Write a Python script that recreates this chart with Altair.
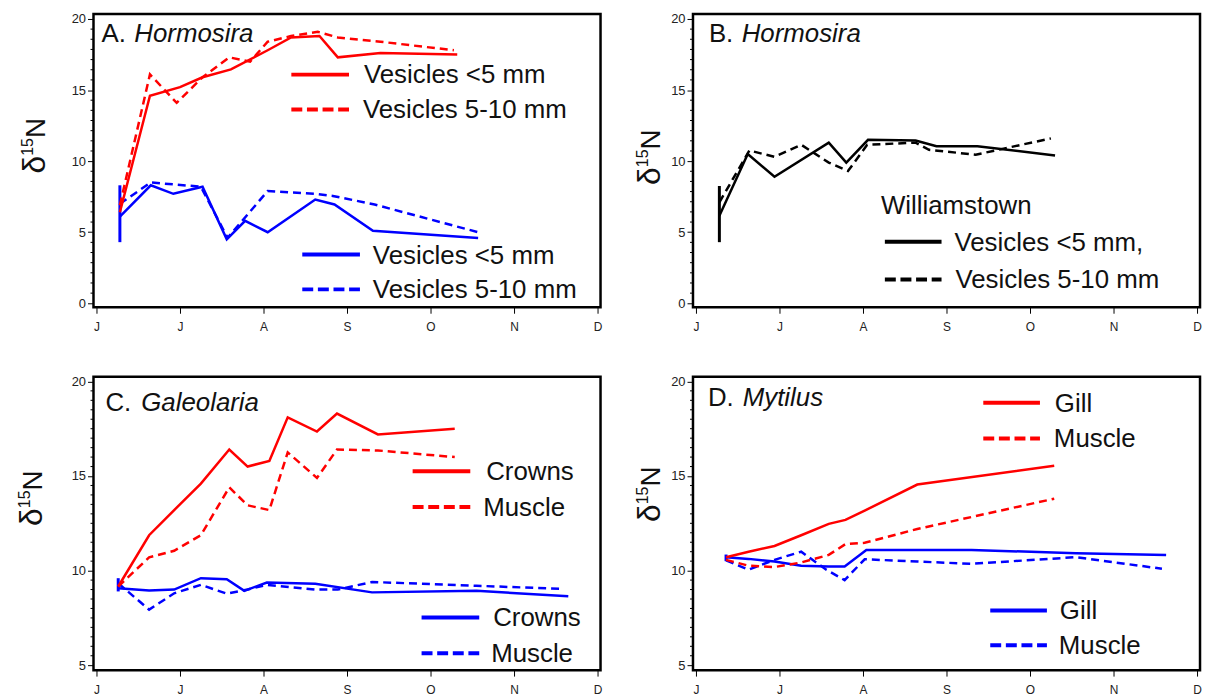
import altair as alt
import pandas as pd

# ---------------- data (x in months from 1 June; y = d15N) ----------------
MONTH_LABELS = ["J", "J", "A", "S", "O", "N", "D"]
MONTH_TICKS = [0, 1, 2, 3, 4, 5, 6]

# Panel A  Hormosira
a_red_solid_x = [0.28, 0.64, 1.00, 1.27, 1.61, 2.05, 2.33, 2.67, 2.89, 3.40, 4.32]
a_red_solid_y = [6.4, 14.6, 15.2, 15.9, 16.45, 17.8, 18.7, 18.8, 17.3, 17.6, 17.5]
a_red_dash_x = [0.28, 0.64, 0.96, 1.27, 1.59, 1.84, 2.05, 2.33, 2.65, 2.89, 3.40, 4.28]
a_red_dash_y = [6.9, 16.1, 14.1, 15.9, 17.3, 17.0, 18.4, 18.8, 19.1, 18.7, 18.4, 17.8]
a_blue_solid_x = [0.28, 0.65, 0.92, 1.27, 1.56, 1.78, 2.05, 2.62, 2.85, 3.31, 4.57]
a_blue_solid_y = [6.1, 8.3, 7.7, 8.2, 4.5, 5.8, 5.0, 7.3, 6.95, 5.1, 4.6]
a_blue_dash_x = [0.28, 0.65, 1.25, 1.57, 2.05, 2.62, 2.83, 3.33, 4.57]
a_blue_dash_y = [7.0, 8.5, 8.2, 4.6, 7.9, 7.7, 7.55, 6.95, 5.0]
a_err = (0.28, 4.3, 8.3)

# Panel B  Hormosira, Williamstown
b_solid_x = [0.28, 0.62, 0.94, 1.59, 1.80, 2.06, 2.63, 2.88, 3.37, 4.30]
b_solid_y = [6.16, 10.5, 8.9, 11.3, 9.9, 11.5, 11.45, 11.05, 11.05, 10.4]
b_dash_x = [0.28, 0.64, 0.94, 1.26, 1.59, 1.82, 2.05, 2.63, 2.79, 3.35, 4.25]
b_dash_y = [7.1, 10.75, 10.3, 11.15, 9.9, 9.3, 11.15, 11.3, 10.8, 10.45, 11.6]
b_err = (0.28, 4.3, 8.25)

# Panel C  Galeolaria
c_red_x = [0.26, 0.63, 0.93, 1.25, 1.59, 1.81, 2.07, 2.29, 2.64, 2.88, 3.37, 4.29]
c_red_solid_y = [9.16, 11.87, 13.2, 14.6, 16.4, 15.5, 15.8, 18.1, 17.35, 18.3, 17.2, 17.5]
c_red_dash_y = [9.16, 10.7, 11.05, 11.87, 14.4, 13.45, 13.2, 16.25, 14.9, 16.4, 16.35, 16.0]
c_blue_solid_x = [0.26, 0.63, 0.93, 1.25, 1.56, 1.77, 2.04, 2.62, 3.30, 4.55, 5.65]
c_blue_solid_y = [9.07, 8.95, 9.0, 9.6, 9.55, 8.93, 9.37, 9.3, 8.85, 8.93, 8.64]
c_blue_dash_x = [0.26, 0.63, 0.93, 1.25, 1.56, 1.81, 2.04, 2.62, 2.89, 3.30, 4.55, 5.59]
c_blue_dash_y = [9.33, 7.94, 8.8, 9.25, 8.78, 9.0, 9.25, 9.0, 9.0, 9.4, 9.2, 9.03]
c_err = (0.26, 8.9, 9.6)

# Panel D  Mytilus
d_red_x = [0.36, 0.63, 0.94, 1.26, 1.59, 1.79, 2.02, 2.65, 4.29]
d_red_solid_y = [10.71, 11.0, 11.3, 11.87, 12.47, 12.68, 13.17, 14.55, 15.54]
d_red_dash_y = [10.57, 10.26, 10.19, 10.43, 10.83, 11.4, 11.47, 12.2, 13.8]
d_blue_solid_x = [0.36, 0.63, 0.94, 1.26, 1.59, 1.78, 2.04, 2.65, 3.30, 4.55, 5.63]
d_blue_solid_y = [10.71, 10.62, 10.48, 10.26, 10.22, 10.22, 11.09, 11.09, 11.09, 10.92, 10.83]
d_blue_dash_x = [0.36, 0.63, 0.94, 1.26, 1.56, 1.78, 2.02, 2.65, 3.30, 4.55, 5.58]
d_blue_dash_y = [10.54, 10.05, 10.57, 11.0, 10.05, 9.5, 10.6, 10.48, 10.36, 10.71, 10.1]
d_err = (0.36, 10.5, 10.85)

# axis tick values
Y_MAJOR_AB = [0, 5, 10, 15, 20]
Y_MAJOR_CD = [5, 10, 15, 20]
Y_MINOR_AB = [round(k * 5 / 7, 4) for k in range(0, 29) if k % 7 != 0]
Y_MINOR_CD = [round(5 + k * 0.5, 4) for k in range(0, 31) if k % 10 != 0]

# ---------------- styling ----------------
FONT = "Liberation Sans"
RED = "#ff0000"
BLUE = "#0000ff"
BLACK = "#000000"
W, H = 510, 295
XDOM = [-0.036, 6.036]
DASH = [8, 5]
LEG_DASH = [11, 4.7]
TS = 26  # legend / panel title font size

xaxis = alt.Axis(values=MONTH_TICKS,
                 labelExpr="['J','J','A','S','O','N','D'][datum.value]",
                 domain=False, grid=False, ticks=True, tickSize=6, tickColor="black",
                 tickWidth=1, labelPadding=8, labelFontSize=12, labelColor="#222",
                 labelFont=FONT, title=None)


def yaxis(vals):
    return alt.Axis(values=vals, domain=False, grid=False, tickSize=6, tickColor="black",
                    tickWidth=1, labelPadding=2, labelFontSize=13, labelColor="#222",
                    labelFont=FONT, title=None)


one = pd.DataFrame({"k": [0]})


def line(xs, ys, color, dashed, xs_, ys_, ya):
    df = pd.DataFrame({"x": xs, "y": ys})
    kw = dict(color=color, strokeWidth=2.5)
    if dashed:
        kw["strokeDash"] = DASH
    return alt.Chart(df).mark_line(**kw).encode(
        x=alt.X("x:Q", scale=xs_, axis=xaxis),
        y=alt.Y("y:Q", scale=ys_, axis=ya))


def errbar(err, color, xs_, ys_, ya):
    df = pd.DataFrame({"x": [err[0]], "lo": [err[1]], "hi": [err[2]]})
    return alt.Chart(df).mark_rule(color=color, strokeWidth=3).encode(
        x=alt.X("x:Q", scale=xs_, axis=xaxis),
        y=alt.Y("lo:Q", scale=ys_, axis=ya), y2="hi:Q")


def minor(vals, ys_, ya):
    df = pd.DataFrame({"v": vals})
    return alt.Chart(df).mark_rule(color="black", strokeWidth=1).encode(
        x=alt.value(-3), x2=alt.value(0),
        y=alt.Y("v:Q", scale=ys_, axis=ya))


def txt(s, x, y, size=TS, style="normal", angle=0, color="#111"):
    kw = dict(align="left", baseline="alphabetic", font=FONT, fontSize=size,
              fontStyle=style, color=color)
    if angle:
        kw["angle"] = angle
    return alt.Chart(pd.DataFrame({"t": [s]})).mark_text(**kw).encode(
        x=alt.value(x), y=alt.value(y), text="t:N")


def leg_line(x1, x2, y, color, dashed):
    kw = dict(color=color, strokeWidth=4)
    if dashed:
        kw["strokeDash"] = LEG_DASH
    return alt.Chart(one).mark_rule(**kw).encode(
        x=alt.value(x1), x2=alt.value(x2), y=alt.value(y))


def ytitle(base, d_bottom, s_bottom, n_bottom):
    return [txt("δ", base, d_bottom, size=32, angle=270),
            txt("15", base - 12, s_bottom, size=16, angle=270),
            txt("N", base, n_bottom, size=28, angle=270)]


def panel(layers_fn, ydom, major, minor_vals):
    xs_ = alt.Scale(domain=XDOM, nice=False, zero=False)
    ys_ = alt.Scale(domain=ydom, nice=False, zero=False)
    ya = yaxis(major)
    layers = [minor(minor_vals, ys_, ya)] + layers_fn(xs_, ys_, ya)
    return alt.layer(*layers).properties(width=W, height=H)


def panel_a(xs_, ys_, ya):
    return [
        errbar(a_err, BLUE, xs_, ys_, ya),
        line(a_blue_dash_x, a_blue_dash_y, BLUE, True, xs_, ys_, ya),
        line(a_blue_solid_x, a_blue_solid_y, BLUE, False, xs_, ys_, ya),
        line(a_red_dash_x, a_red_dash_y, RED, True, xs_, ys_, ya),
        line(a_red_solid_x, a_red_solid_y, RED, False, xs_, ys_, ya),
        txt("A.", 8, 28), txt("Hormosira", 41, 28, style="italic"),
        leg_line(199, 257, 61, RED, False), txt("Vesicles <5 mm", 272, 69),
        leg_line(199, 257, 96, RED, True), txt("Vesicles 5-10  mm", 271, 105),
        leg_line(210, 268, 242, BLUE, False), txt("Vesicles <5 mm", 281, 251),
        leg_line(210, 268, 277, BLUE, True), txt("Vesicles 5-10  mm", 281, 286),
    ] + ytitle(-49, 160.4, 142.6, 124.8)


def panel_b(xs_, ys_, ya):
    return [
        errbar(b_err, BLACK, xs_, ys_, ya),
        line(b_dash_x, b_dash_y, BLACK, True, xs_, ys_, ya),
        line(b_solid_x, b_solid_y, BLACK, False, xs_, ys_, ya),
        txt("B.", 16, 28), txt("Hormosira", 49, 28, style="italic"),
        txt("Williamstown", 189, 201),
        leg_line(193, 250, 229, BLACK, False), txt("Vesicles <5 mm,", 263, 238),
        leg_line(193, 250, 267, BLACK, True), txt("Vesicles 5-10 mm", 264, 276),
    ] + ytitle(-33, 171.9, 154.1, 136.3)


def panel_c(xs_, ys_, ya):
    return [
        errbar(c_err, BLUE, xs_, ys_, ya),
        line(c_blue_dash_x, c_blue_dash_y, BLUE, True, xs_, ys_, ya),
        line(c_blue_solid_x, c_blue_solid_y, BLUE, False, xs_, ys_, ya),
        line(c_red_x, c_red_dash_y, RED, True, xs_, ys_, ya),
        line(c_red_x, c_red_solid_y, RED, False, xs_, ys_, ya),
        txt("C.", 12, 34), txt("Galeolaria", 48, 34, style="italic"),
        leg_line(321, 379, 95, RED, False), txt("Crowns", 395, 104),
        leg_line(321, 379, 131, RED, True), txt("Muscle", 392, 140),
        leg_line(330, 388, 242, BLUE, False), txt("Crowns", 402, 251),
        leg_line(330, 388, 278, BLUE, True), txt("Muscle", 400, 287),
    ] + ytitle(-52, 149.9, 132.1, 114.3)


def panel_d(xs_, ys_, ya):
    return [
        errbar(d_err, BLUE, xs_, ys_, ya),
        line(d_blue_dash_x, d_blue_dash_y, BLUE, True, xs_, ys_, ya),
        line(d_blue_solid_x, d_blue_solid_y, BLUE, False, xs_, ys_, ya),
        line(d_red_x, d_red_dash_y, RED, True, xs_, ys_, ya),
        line(d_red_x, d_red_solid_y, RED, False, xs_, ys_, ya),
        txt("D.", 15, 29), txt("Mytilus", 50, 29, style="italic"),
        leg_line(292, 349, 26, RED, False), txt("Gill", 364, 35),
        leg_line(292, 349, 62, RED, True), txt("Muscle", 363, 71),
        leg_line(299, 356, 235, BLUE, False), txt("Gill", 369, 244),
        leg_line(299, 356, 270, BLUE, True), txt("Muscle", 368, 279),
    ] + ytitle(-33, 145.9, 128.1, 110.3)


YDOM_AB = [-0.28, 20.35]
YDOM_CD = [4.74, 20.24]

A = panel(panel_a, YDOM_AB, Y_MAJOR_AB, Y_MINOR_AB)
B = panel(panel_b, YDOM_AB, Y_MAJOR_AB, Y_MINOR_AB)
C = panel(panel_c, YDOM_CD, Y_MAJOR_CD, Y_MINOR_CD)
D = panel(panel_d, YDOM_CD, Y_MAJOR_CD, Y_MINOR_CD)

chart = alt.concat(A, B, C, D, columns=2, spacing={"row": 70, "column": 93},
                   bounds="flush").properties(
    padding={"left": 6, "top": 1, "right": 0, "bottom": 0}
).configure_view(stroke="black", strokeWidth=2.5)

chart.save("out.html", embed_options={"renderer": "svg", "actions": False})
